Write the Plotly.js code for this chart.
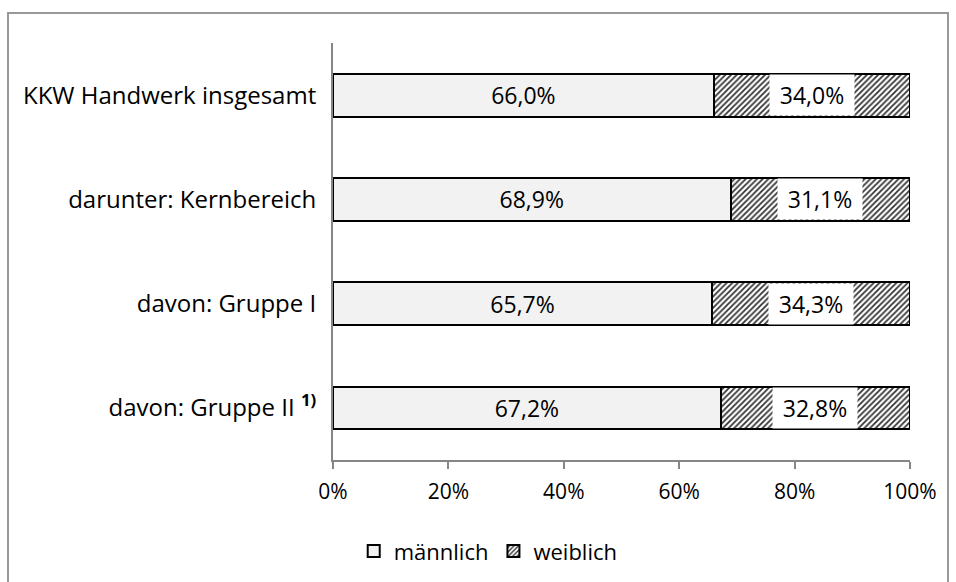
<!DOCTYPE html>
<html>
<head>
<meta charset="utf-8">
<script src="https://cdn.plot.ly/plotly-3.0.1.min.js"></script>
<style>html,body{margin:0;padding:0;background:#fff;}#chart{width:956px;height:582px;}</style>
</head>
<body>
<div id="chart"></div>
<script>
const categories = ["KKW Handwerk insgesamt", "darunter: Kernbereich", "davon: Gruppe I", "davon: Gruppe II <sup><b>1)</b></sup>"];
const maennlich = [66.0, 68.9, 65.7, 67.2];
const weiblich = [34.0, 31.1, 34.3, 32.8];
const seriesNames = ["männlich", "weiblich"];
const tickVals = [0, 20, 40, 60, 80, 100];
const tickLabels = ["0%", "20%", "40%", "60%", "80%", "100%"];

const fmt = v => v.toFixed(1).replace('.', ',') + '%';
const FONT = "Open Sans, Noto Sans, sans-serif";

const traces = [
  {
    type: 'bar', orientation: 'h', name: seriesNames[0],
    y: categories, x: maennlich,
    text: maennlich.map(fmt), textposition: 'inside', insidetextanchor: 'middle',
    textfont: {family: FONT, size: 23, color: '#000'},
    marker: {color: '#f2f2f2', line: {color: '#000', width: 2}},
    hoverinfo: 'none'
  },
  {
    type: 'bar', orientation: 'h', name: seriesNames[1],
    y: categories, x: weiblich,
    marker: {color: '#fff', line: {color: '#000', width: 2},
      pattern: {shape: '/', fgcolor: '#333', bgcolor: '#fff', size: 4, solidity: 0.45}},
    hoverinfo: 'none'
  }
];

const annotations = categories.map((c, i) => ({
  x: maennlich[i] + weiblich[i] / 2, y: c, xref: 'x', yref: 'y',
  text: fmt(weiblich[i]), showarrow: false,
  font: {family: FONT, size: 23, color: '#000'},
  bgcolor: '#fff', width: 84, height: 40, borderpad: 0
}));

const W = 956, H = 582, L = 333, R = 46, T = 43, B = 122;
const pw = W - L - R, ph = H - T - B;
const px = X => (X - L) / pw, py = Y => 1 - (Y - T) / ph;

const layout = {
  width: W, height: H,
  margin: {l: L, r: R, t: T, b: B, pad: 0},
  paper_bgcolor: '#fff', plot_bgcolor: '#fff',
  barmode: 'stack', bargap: 0.59,
  font: {family: FONT, size: 21, color: '#000'},
  showlegend: true,
  legend: {orientation: 'h', xref: 'container', yref: 'container', x: 0.37, xanchor: 'left', y: 0.053, yanchor: 'middle',
    font: {family: FONT, size: 22, color: '#000'}, itemwidth: 30, tracegroupgap: 0, traceorder: 'normal'},
  xaxis: {range: [0, 100], tickvals: tickVals, ticktext: tickLabels, showgrid: false, zeroline: false,
    showline: true, linecolor: '#868686', linewidth: 2, ticks: 'outside', ticklen: 7, tickcolor: '#868686', tickwidth: 2,
    ticklabelstandoff: 5,
    tickfont: {family: FONT, size: 21, color: '#000'}, fixedrange: true},
  yaxis: {type: 'category', autorange: 'reversed', showgrid: false, zeroline: false,
    showline: true, linecolor: '#868686', linewidth: 2, ticks: '', ticklabelstandoff: 10,
    tickfont: {family: FONT, size: 24, color: '#000'}, fixedrange: true},
  annotations: annotations,
  shapes: [{type: 'rect', xref: 'paper', yref: 'paper', x0: px(8), x1: px(948), y0: py(600), y1: py(13),
    line: {color: '#999', width: 2}, fillcolor: 'rgba(0,0,0,0)', layer: 'below'}]
};

Plotly.newPlot('chart', traces, layout, {displayModeBar: false, staticPlot: true});
</script>
</body>
</html>
